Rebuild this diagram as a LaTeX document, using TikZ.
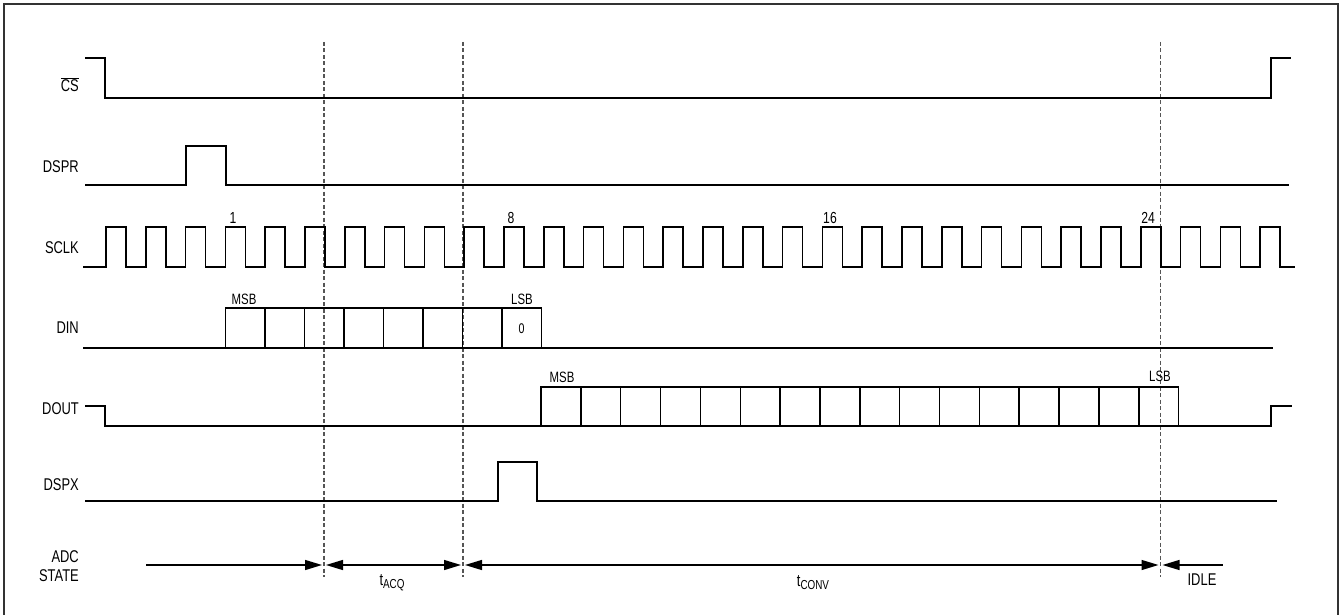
\documentclass[tikz,border=0pt]{standalone}
\usepackage{fontspec}
\setmainfont{Liberation Sans}
\usepackage{graphicx}
\usepackage{tikz}
\usetikzlibrary{arrows.meta,positioning}
\definecolor{FrameGray}{HTML}{333333}
\definecolor{GuideGray}{HTML}{555555}
\newcommand{\nar}[1]{\scalebox{0.76}[1]{#1}}
\newcommand{\tsub}[1]{\nar{t{\fontsize{13}{15}\selectfont\raisebox{-3pt}{#1}}}}

\begin{document}
\begin{tikzpicture}[
  x=1pt, y=-1pt,
  sig/.style={line width=1.5pt, draw=black, line join=miter},
  guide/.style={draw=GuideGray, line width=1.1pt, dash pattern=on 4pt off 2.5pt},
  span/.style={line width=1.3pt, draw=black},
  lbl/.style={font=\fontsize{17}{19}\selectfont, inner sep=0pt},
  siglbl/.style={lbl, anchor=east},
  bitlbl/.style={font=\fontsize{15}{17}\selectfont, inner sep=0pt},
  cntlbl/.style={font=\fontsize{16}{18}\selectfont, inner sep=0pt}
]
\useasboundingbox (0,0) rectangle (1341,615);
\draw[line width=2.5pt, draw=FrameGray] (4,620) -- (4,4) -- (1338,4) -- (1338,620);

\def\per{39.8}
\def\dinw{39.5}
\def\doutw{39.85}

\node[siglbl] (lcs) at (79,85) {\nar{$\overline{\mbox{CS}}$}};
\node[siglbl] (ldspr) at (79,167) {\nar{DSPR}};
\node[siglbl] (lsclk) at (79,248) {\nar{SCLK}};
\node[siglbl] (ldin) at (79,328) {\nar{DIN}};
\node[siglbl] (ldout) at (79,409) {\nar{DOUT}};
\node[siglbl] (ldspx) at (79,485) {\nar{DSPX}};
\node[siglbl, align=right] (ladc) at (79,566) {\nar{ADC}\\\nar{STATE}};

\coordinate (g1top) at (324,42);
\coordinate (g1bot) at (324,577);
\coordinate (g2top) at (463,42);
\coordinate (g2bot) at (463,577);
\coordinate (g3top) at (1160.5,42);
\coordinate (g3bot) at (1160.5,577);
\draw[guide] (g1top) -- (g1bot);
\draw[guide] (g2top) -- (g2bot);
\draw[guide] (g3top) -- (g3bot);

\draw[sig] (85,58) -- (105,58) -- (105,98) -- (1271,98) -- (1271,58) -- (1291,58);

\draw[sig] (85,185) -- (186,185) -- (186,146) -- (226,146) -- (226,185) -- (1289,185);

\draw[sig] (83,267) \foreach \k in {0,...,29}{
  -- ({106+\k*\per},267) -- ({106+\k*\per},227) -- ({126+\k*\per},227) -- ({126+\k*\per},267)}
  -- (1295,267);
\node[cntlbl] (clk1) at (233,218) {\nar{1}};
\node[cntlbl] (clk8) at (511,218) {\nar{8}};
\node[cntlbl] (clk16) at (830,218) {\nar{16}};
\node[cntlbl] (clk24) at (1148,218) {\nar{24}};

\draw[sig] (83,348) -- (1273,348);
\foreach \k in {0,...,7}
  \draw[sig] ({225.3+\k*\dinw},348) rectangle ({225.3+(\k+1)*\dinw},308);
\node[bitlbl] (dinmsb) at (244,299) {\nar{MSB}};
\node[bitlbl] (dinlsb) at (522,299) {\nar{LSB}};
\node[font=\fontsize{14}{16}\selectfont, inner sep=0pt] (dinzero) at (521.5,329) {\nar{0}};

\draw[sig] (85,406) -- (105,406) -- (105,426) -- (1271,426) -- (1271,406) -- (1292,406);
\foreach \k in {0,...,15}
  \draw[sig] ({541+\k*\doutw},426) rectangle ({541+(\k+1)*\doutw},387);
\node[bitlbl] (doutmsb) at (562,377) {\nar{MSB}};
\node[bitlbl] (doutlsb) at (1160,376) {\nar{LSB}};

\draw[sig] (85,501) -- (498,501) -- (498,462) -- (537,462) -- (537,501) -- (1277,501);

\coordinate (a0) at (146,565);
\coordinate (a1) at (324,565);
\coordinate (a2) at (463,565);
\coordinate (a3) at (1160.5,565);
\coordinate (a4) at (1223,565);
\draw[span, -{Triangle[length=17pt,width=10pt]}, shorten >=2pt] (a0) -- (a1);
\draw[span, {Triangle[length=17pt,width=10pt]}-{Triangle[length=17pt,width=10pt]}, shorten <=2pt, shorten >=2pt] (a1) -- (a2);
\draw[span, {Triangle[length=17pt,width=10pt]}-{Triangle[length=17pt,width=10pt]}, shorten <=2pt, shorten >=2pt] (a2) -- (a3);
\draw[span, {Triangle[length=17pt,width=10pt]}-, shorten <=2pt] (a3) -- (a4);
\node[lbl] (tacq) at (392,583) {\tsub{ACQ}};
\node[lbl] (tconv) at (813,583) {\tsub{CONV}};
\node[lbl] (tidle) at (1202,580) {\nar{IDLE}};
\end{tikzpicture}
\end{document}
